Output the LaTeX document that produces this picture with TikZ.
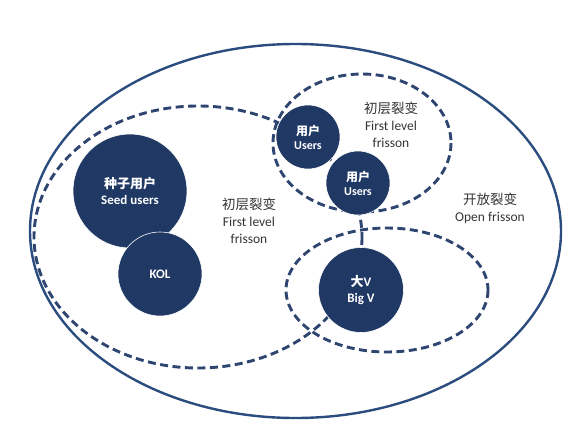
\documentclass[tikz,border=0pt]{standalone}
\usepackage{fontspec}
\setmainfont{Carlito}
\newfontfamily\cjk{Noto Sans CJK SC}
\definecolor{navy}{HTML}{1F3864}
\definecolor{dashblue}{HTML}{2E4570}
\definecolor{rimblue}{HTML}{2B4C7E}
\definecolor{labelgray}{HTML}{333333}

\begin{document}
\begin{tikzpicture}[x=1pt, y=-1pt,
  every node/.style={font=\fontsize{13.5}{17}\selectfont, align=center, text=labelgray},
  zone/.style={draw=dashblue, line width=2.9pt, dash pattern=on 8pt off 4.5pt},
  disc/.style={circle, fill=navy, draw=white, line width=0.6pt, text=white, font=\fontsize{13}{16}\selectfont\bfseries, inner sep=0pt}]
  \useasboundingbox (0,0) rectangle (583,442);
  % open frisson
  \draw[rimblue, line width=2.4pt] (295.5,231) ellipse [x radius=265.5, y radius=187];
  % first level zones
  \draw[zone] (198,237) ellipse [x radius=164, y radius=131];
  \draw[zone] (362,143) ellipse [x radius=89, y radius=69];
  \draw[zone] (387,290) ellipse [x radius=101, y radius=62];
  % people
  \node[disc, minimum size=114] (seed) at (130,191) {{\cjk 种子用户}\\Seed users};
  \node[disc, minimum size=84] (kol) at (160,274) {KOL};
  \node[disc, minimum size=64, font=\fontsize{12}{14}\selectfont\bfseries] (usera) at (308,137) {{\cjk 用户}\\Users};
  \node[disc, minimum size=64, font=\fontsize{12}{14}\selectfont\bfseries] (userb) at (358,183) {{\cjk 用户}\\Users};
  \node[disc, minimum size=85] (bigv) at (361,290) {{\cjk 大}V\\Big V};
  % labels
  \node (lvla) at (249,221) {{\cjk 初层裂变}\\First level\\frisson};
  \node (lvlb) at (391,125) {{\cjk 初层裂变}\\First level\\frisson};
  \node (open) at (490,208) {{\cjk 开放裂变}\\Open frisson};
\end{tikzpicture}
\end{document}
